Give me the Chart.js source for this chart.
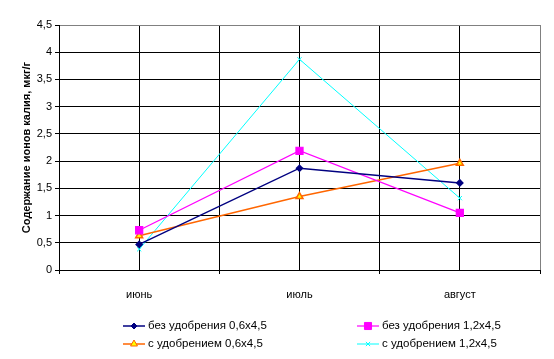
<!DOCTYPE html>
<html>
<head>
<meta charset="utf-8">
<script src="https://cdn.jsdelivr.net/npm/chart.js@4/dist/chart.umd.min.js"></script>
<style>
html, body { margin: 0; padding: 0; background: #fff; }
#wrap { width: 554px; height: 359px; }
</style>
</head>
<body>
<div id="wrap"><canvas id="potChart" width="554" height="359"></canvas></div>
<script>
// months
const months = ["июнь", "июль", "август"];
// potassium ions content, mkg/g
const noFert06 = [0.47, 1.87, 1.60];
const noFert12 = [0.73, 2.19, 1.05];
const fert06 = [0.63, 1.35, 1.96];
const fert12 = [0.38, 3.87, 1.32];
const seriesNames = ["без удобрения 0,6х4,5", "без удобрения 1,2х4,5", "с удобрением 0,6х4,5", "с удобрением 1,2х4,5"];
const yTicks = [0, 0.5, 1, 1.5, 2, 2.5, 3, 3.5, 4, 4.5];

const FONT = "'Liberation Sans', Arial, sans-serif";

function pts(arr) {
  return arr.map(function (v, i) { return { x: i, y: v }; });
}

// two-column legend like the original
const legendBox = {
  id: "legendBox",
  afterDraw: function (chart) {
    const ctx = chart.ctx;
    const cols = [123, 357];
    const rows = [326, 344];
    ctx.save();
    ctx.font = "11.5px " + FONT;
    ctx.textBaseline = "middle";
    chart.data.datasets.forEach(function (ds, k) {
      const x = cols[k % 2], y = rows[Math.floor(k / 2)];
      ctx.strokeStyle = ds.borderColor;
      ctx.lineWidth = ds.borderWidth;
      ctx.beginPath();
      ctx.moveTo(x, y);
      ctx.lineTo(x + 22, y);
      ctx.stroke();
      ctx.fillStyle = ds.pointBackgroundColor;
      ctx.strokeStyle = ds.pointBorderColor;
      ctx.lineWidth = 1;
      Chart.helpers.drawPoint(ctx, {
        pointStyle: ds.pointStyle,
        radius: ds.pointRadius,
        rotation: 0,
        borderWidth: 1
      }, x + 11, y);
      ctx.fillStyle = "#000";
      ctx.fillText(ds.label, x + 25, y);
    });
    ctx.restore();
  }
};

new Chart(document.getElementById("potChart"), {
  type: "line",
  data: {
    datasets: [{
      label: seriesNames[0],
      data: pts(noFert06),
      borderColor: "#000080",
      borderWidth: 1.5,
      pointStyle: "rectRot",
      pointRadius: 3,
      pointBackgroundColor: "#000080",
      pointBorderColor: "#000080"
    }, {
      label: seriesNames[1],
      data: pts(noFert12),
      borderColor: "#ff00ff",
      borderWidth: 1.2,
      pointStyle: "rect",
      pointRadius: 5,
      pointBackgroundColor: "#ff00ff",
      pointBorderColor: "#ff00ff"
    }, {
      label: seriesNames[2],
      data: pts(fert06),
      borderColor: "#ff6600",
      borderWidth: 1.5,
      pointStyle: "triangle",
      pointRadius: 4,
      pointBackgroundColor: "#ffff00",
      pointBorderColor: "#ff6600"
    }, {
      label: seriesNames[3],
      data: pts(fert12),
      borderColor: "#00ffff",
      borderWidth: 1,
      pointStyle: "crossRot",
      pointRadius: 3,
      pointBackgroundColor: "#00ffff",
      pointBorderColor: "#00ffff"
    }]
  },
  options: {
    responsive: false,
    animation: false,
    layout: { padding: { left: 0, top: 25, right: 13, bottom: 59 } },
    plugins: {
      legend: { display: false },
      tooltip: { enabled: false }
    },
    scales: {
      x: {
        type: "linear",
        min: -0.5,
        max: 2.5,
        afterFit: function (s) { s.height = 30; },
        afterBuildTicks: function (s) {
          s.ticks = [-0.5, 0, 0.5, 1, 1.5, 2, 2.5].map(function (v) { return { value: v }; });
        },
        ticks: {
          autoSkip: false,
          maxRotation: 0,
          padding: 14,
          color: "#000",
          font: { family: FONT, size: 11 },
          callback: function (v) { return Number.isInteger(v) ? months[v] : ""; }
        },
        grid: {
          color: function (c) { return c.tick && c.tick.value === 2.5 ? "#808080" : "#000"; },
          tickColor: function (c) { return c.tick && !Number.isInteger(c.tick.value) ? "#000" : "rgba(0,0,0,0)"; },
          tickLength: 4,
          lineWidth: 1
        },
        border: { color: "#000", width: 1 }
      },
      y: {
        min: 0,
        max: 4.5,
        afterFit: function (s) { s.width = 59; },
        afterBuildTicks: function (s) {
          s.ticks = yTicks.map(function (v) { return { value: v }; });
        },
        ticks: {
          padding: 3,
          color: "#000",
          font: { family: FONT, size: 11 },
          callback: function (v) { return String(v).replace(".", ","); }
        },
        grid: {
          color: function (c) { return c.tick && c.tick.value === 4.5 ? "#808080" : "#000"; },
          tickColor: "#000",
          tickLength: 4,
          lineWidth: 1
        },
        border: { color: "#000", width: 1 },
        title: {
          display: true,
          text: "Содержание ионов калия, мкг/г",
          color: "#000",
          font: { family: FONT, size: 11, weight: "bold" },
          padding: { top: 20, bottom: 0 }
        }
      }
    }
  },
  plugins: [legendBox]
});
</script>
</body>
</html>
